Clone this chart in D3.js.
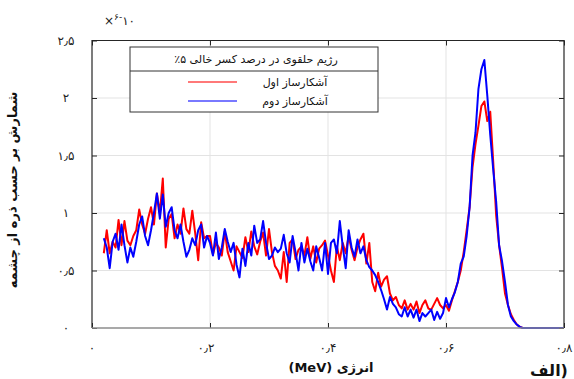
<!DOCTYPE html>
<html>
<head>
<meta charset="utf-8">
<script src="https://cdn.jsdelivr.net/npm/d3@7"></script>
<style>
  body { margin: 0; background: #fff; }
  svg { display: block; font-family: "DejaVu Sans", sans-serif; }
</style>
</head>
<body>
<div class="chart"></div>
<script>
// energy bins start at 0.02 MeV, 0.005 MeV wide
var binStart = 0.02, binWidth = 0.005;

// counts per particle, units of 1e-6 (detector 1 = red, detector 2 = blue)
var detector1 = [
  0.65,0.85,0.65,0.75,0.70,0.94,0.72,0.93,0.76,0.72,0.80,0.85,1.03,0.90,0.82,0.95,1.05,
  0.90,1.17,1.00,1.30,0.70,0.95,0.99,0.78,0.90,0.82,1.04,0.86,0.82,1.02,0.82,0.59,0.92,0.78,0.80,0.80,
  0.64,0.74,0.70,0.63,0.84,0.66,0.58,0.50,0.71,0.66,0.61,0.79,0.66,0.84,0.71,0.64,0.75,0.83,0.63,0.86,
  0.66,0.54,0.50,0.43,0.66,0.40,0.74,0.77,0.60,0.68,0.71,0.63,0.79,0.60,0.71,0.57,0.69,0.72,0.76,0.63,
  0.50,0.40,0.71,0.59,0.74,0.65,0.80,0.68,0.59,0.70,0.77,0.82,0.56,0.74,0.40,0.32,0.48,0.36,0.42,0.45,
  0.30,0.24,0.27,0.20,0.17,0.24,0.16,0.21,0.16,0.23,0.13,0.20,0.24,0.17,0.16,0.21,0.26,0.20,0.17,
  0.20,0.15,0.24,0.32,0.40,0.50,0.66,0.85,1.05,1.40,1.60,1.76,1.93,1.97,1.80,1.88,1.45,0.98,0.72,0.52,
  0.30,0.20,0.12,0.07,0.03,0.01,
  0,0,0,0,0,0,0,0,0,0,0,0,0,0,0
];
var detector2 = [
  0.78,0.70,0.52,0.75,0.82,0.68,0.90,0.72,0.57,0.70,0.62,0.75,0.90,0.97,0.80,0.72,0.85,
  1.00,1.17,0.95,1.16,0.88,1.00,1.05,0.85,0.78,0.90,0.75,0.62,0.68,0.78,0.72,0.85,0.90,0.70,0.80,0.74,
  0.63,0.83,0.60,0.70,0.86,0.75,0.66,0.74,0.55,0.44,0.69,0.54,0.74,0.63,0.89,0.74,0.77,0.93,0.74,0.60,
  0.63,0.70,0.66,0.69,0.81,0.65,0.57,0.80,0.66,0.50,0.74,0.57,0.69,0.58,0.50,0.71,0.61,0.50,0.74,0.47,
  0.74,0.77,0.65,0.93,0.71,0.52,0.85,0.70,0.62,0.77,0.65,0.71,0.59,0.53,0.50,0.46,0.40,0.33,0.25,0.16,
  0.27,0.21,0.18,0.12,0.10,0.18,0.10,0.16,0.09,0.16,0.06,0.13,0.10,0.13,0.16,0.07,0.14,0.08,0.13,
  0.26,0.18,0.25,0.31,0.40,0.56,0.62,0.80,1.05,1.50,1.70,2.08,2.25,2.33,2.02,1.68,1.38,1.10,0.72,0.58,
  0.40,0.20,0.10,0.06,0.03,0.01,
  0,0,0,0,0,0,0,0,0,0,0,0,0,0,0
];

var seriesNames = ["آشکارساز اول", "آشکارساز دوم"];
var seriesColors = ["#ff0000", "#0000ff"];
var legendTitle = "رژیم حلقوی در درصد کسر خالی ۵٪";
var xTicks = [0, 0.2, 0.4, 0.6, 0.8];
var yTicks = [0, 0.5, 1, 1.5, 2, 2.5];
var xTitle = "انرژی (MeV)";
var yTitle = "شمارش بر حسب ذره از چشمه";
var panelLabel = "الف)";

var width = 574, height = 379;
var plotLeft = 92, plotRight = 564, plotTop = 40.5, plotBottom = 328;

// persian digits with arabic decimal separator
function fa(v) {
  var s = String(v);
  return s.replace(/[0-9]/g, function (c) { return "۰۱۲۳۴۵۶۷۸۹"[+c]; }).replace(".", "٫");
}

var x = d3.scaleLinear().domain([0, 0.8]).range([plotLeft, plotRight]);
var y = d3.scaleLinear().domain([0, 2.5]).range([plotBottom, plotTop]);

var svg = d3.select(".chart").append("svg")
  .attr("width", width)
  .attr("height", height);

// grid
svg.append("g").selectAll("line")
  .data(xTicks.slice(1, -1))
  .enter().append("line")
  .attr("x1", d => x(d)).attr("x2", d => x(d))
  .attr("y1", plotTop).attr("y2", plotBottom)
  .attr("stroke", "#e3e3e3");
svg.append("g").selectAll("line")
  .data(yTicks.slice(1, -1))
  .enter().append("line")
  .attr("x1", plotLeft).attr("x2", plotRight)
  .attr("y1", d => y(d)).attr("y2", d => y(d))
  .attr("stroke", "#e3e3e3");

// data lines
svg.append("clipPath").attr("id", "plot")
  .append("rect").attr("x", plotLeft).attr("y", plotTop)
  .attr("width", plotRight - plotLeft).attr("height", plotBottom - plotTop + 2);

var line = d3.line()
  .x(function (d, i) { return x(binStart + i * binWidth); })
  .y(function (d) { return y(d); });

svg.append("g").attr("clip-path", "url(#plot)")
  .selectAll("path")
  .data([detector1, detector2])
  .enter().append("path")
  .attr("d", line)
  .attr("fill", "none")
  .attr("stroke", (d, i) => seriesColors[i])
  .attr("stroke-width", 2)
  .attr("stroke-linejoin", "round");

// axes with inward ticks
var axisStyle = function (g) {
  g.selectAll("text").remove();
  g.select(".domain").remove();
  g.selectAll(".tick line").attr("stroke", "#262626");
};
svg.append("g").attr("transform", "translate(0," + plotBottom + ")")
  .call(d3.axisBottom(x).tickValues(xTicks).tickSizeInner(-5).tickSizeOuter(0)).call(axisStyle);
svg.append("g").attr("transform", "translate(0," + plotTop + ")")
  .call(d3.axisTop(x).tickValues(xTicks).tickSizeInner(-5).tickSizeOuter(0)).call(axisStyle);
svg.append("g").attr("transform", "translate(" + plotLeft + ",0)")
  .call(d3.axisLeft(y).tickValues(yTicks).tickSizeInner(-5).tickSizeOuter(0)).call(axisStyle);
svg.append("g").attr("transform", "translate(" + plotRight + ",0)")
  .call(d3.axisRight(y).tickValues(yTicks).tickSizeInner(-5).tickSizeOuter(0)).call(axisStyle);

// box
svg.append("path")
  .attr("d", "M" + plotLeft + "," + plotBottom + "V" + plotTop + "H" + plotRight + "V" + plotBottom)
  .attr("fill", "none").attr("stroke", "#262626").attr("stroke-width", 1.2);
svg.append("line")
  .attr("x1", plotLeft).attr("x2", plotRight).attr("y1", plotBottom).attr("y2", plotBottom)
  .attr("stroke", "#8c8c8c").attr("stroke-width", 1.6);

// tick labels
svg.append("g").selectAll("text")
  .data(xTicks)
  .enter().append("text")
  .attr("x", d => x(d) - (d === 0.2 ? 4 : 0))
  .attr("y", 352)
  .attr("text-anchor", "middle")
  .attr("font-size", 12)
  .attr("fill", "#222")
  .text(d => fa(d));
svg.append("g").selectAll("text")
  .data(yTicks)
  .enter().append("text")
  .attr("x", 66)
  .attr("y", d => y(d))
  .attr("dy", "0.35em")
  .attr("text-anchor", "middle")
  .attr("font-size", 12)
  .attr("fill", "#222")
  .text(d => fa(d));

// exponent
var ex = svg.append("text").attr("x", 104).attr("y", 25)
  .attr("direction", "ltr").attr("font-size", 12).attr("fill", "#222");
ex.append("tspan").text("×");
ex.append("tspan").attr("font-size", 9).attr("dy", -5).text("۶-");
ex.append("tspan").attr("dy", 5).text("۱۰");

// axis titles
svg.append("text")
  .attr("x", 331).attr("y", 372)
  .attr("text-anchor", "middle").attr("direction", "rtl")
  .attr("font-size", 13).attr("font-weight", "bold").attr("fill", "#111")
  .text(xTitle);
svg.append("text")
  .attr("transform", "translate(17,190) rotate(-90)")
  .attr("text-anchor", "middle").attr("direction", "rtl")
  .attr("font-size", 13).attr("font-weight", "bold").attr("fill", "#111")
  .text(yTitle);
svg.append("text")
  .attr("x", 549).attr("y", 376)
  .attr("text-anchor", "middle").attr("direction", "ltr")
  .attr("font-size", 16).attr("font-weight", "bold").attr("fill", "#111")
  .text(panelLabel);

// legend
var lg = svg.append("g");
lg.append("rect")
  .attr("x", 130).attr("y", 47).attr("width", 248).attr("height", 65)
  .attr("fill", "#fff").attr("stroke", "#333");
lg.append("line")
  .attr("x1", 130).attr("x2", 378).attr("y1", 71).attr("y2", 71)
  .attr("stroke", "#333");
lg.append("text")
  .attr("x", 256).attr("y", 63)
  .attr("text-anchor", "middle").attr("direction", "rtl")
  .attr("font-size", 11).attr("fill", "#111")
  .text(legendTitle);
var item = lg.selectAll(".item")
  .data(seriesNames)
  .enter().append("g")
  .attr("transform", (d, i) => "translate(0," + (82 + i * 19) + ")");
item.append("line")
  .attr("x1", 188).attr("x2", 237)
  .attr("stroke", (d, i) => seriesColors[i])
  .attr("stroke-opacity", 0.7)
  .attr("stroke-width", 1.5);
item.append("text")
  .attr("x", 295).attr("y", 4)
  .attr("text-anchor", "middle").attr("direction", "rtl")
  .attr("font-size", 11).attr("fill", "#111")
  .text(d => d);
</script>
</body>
</html>
